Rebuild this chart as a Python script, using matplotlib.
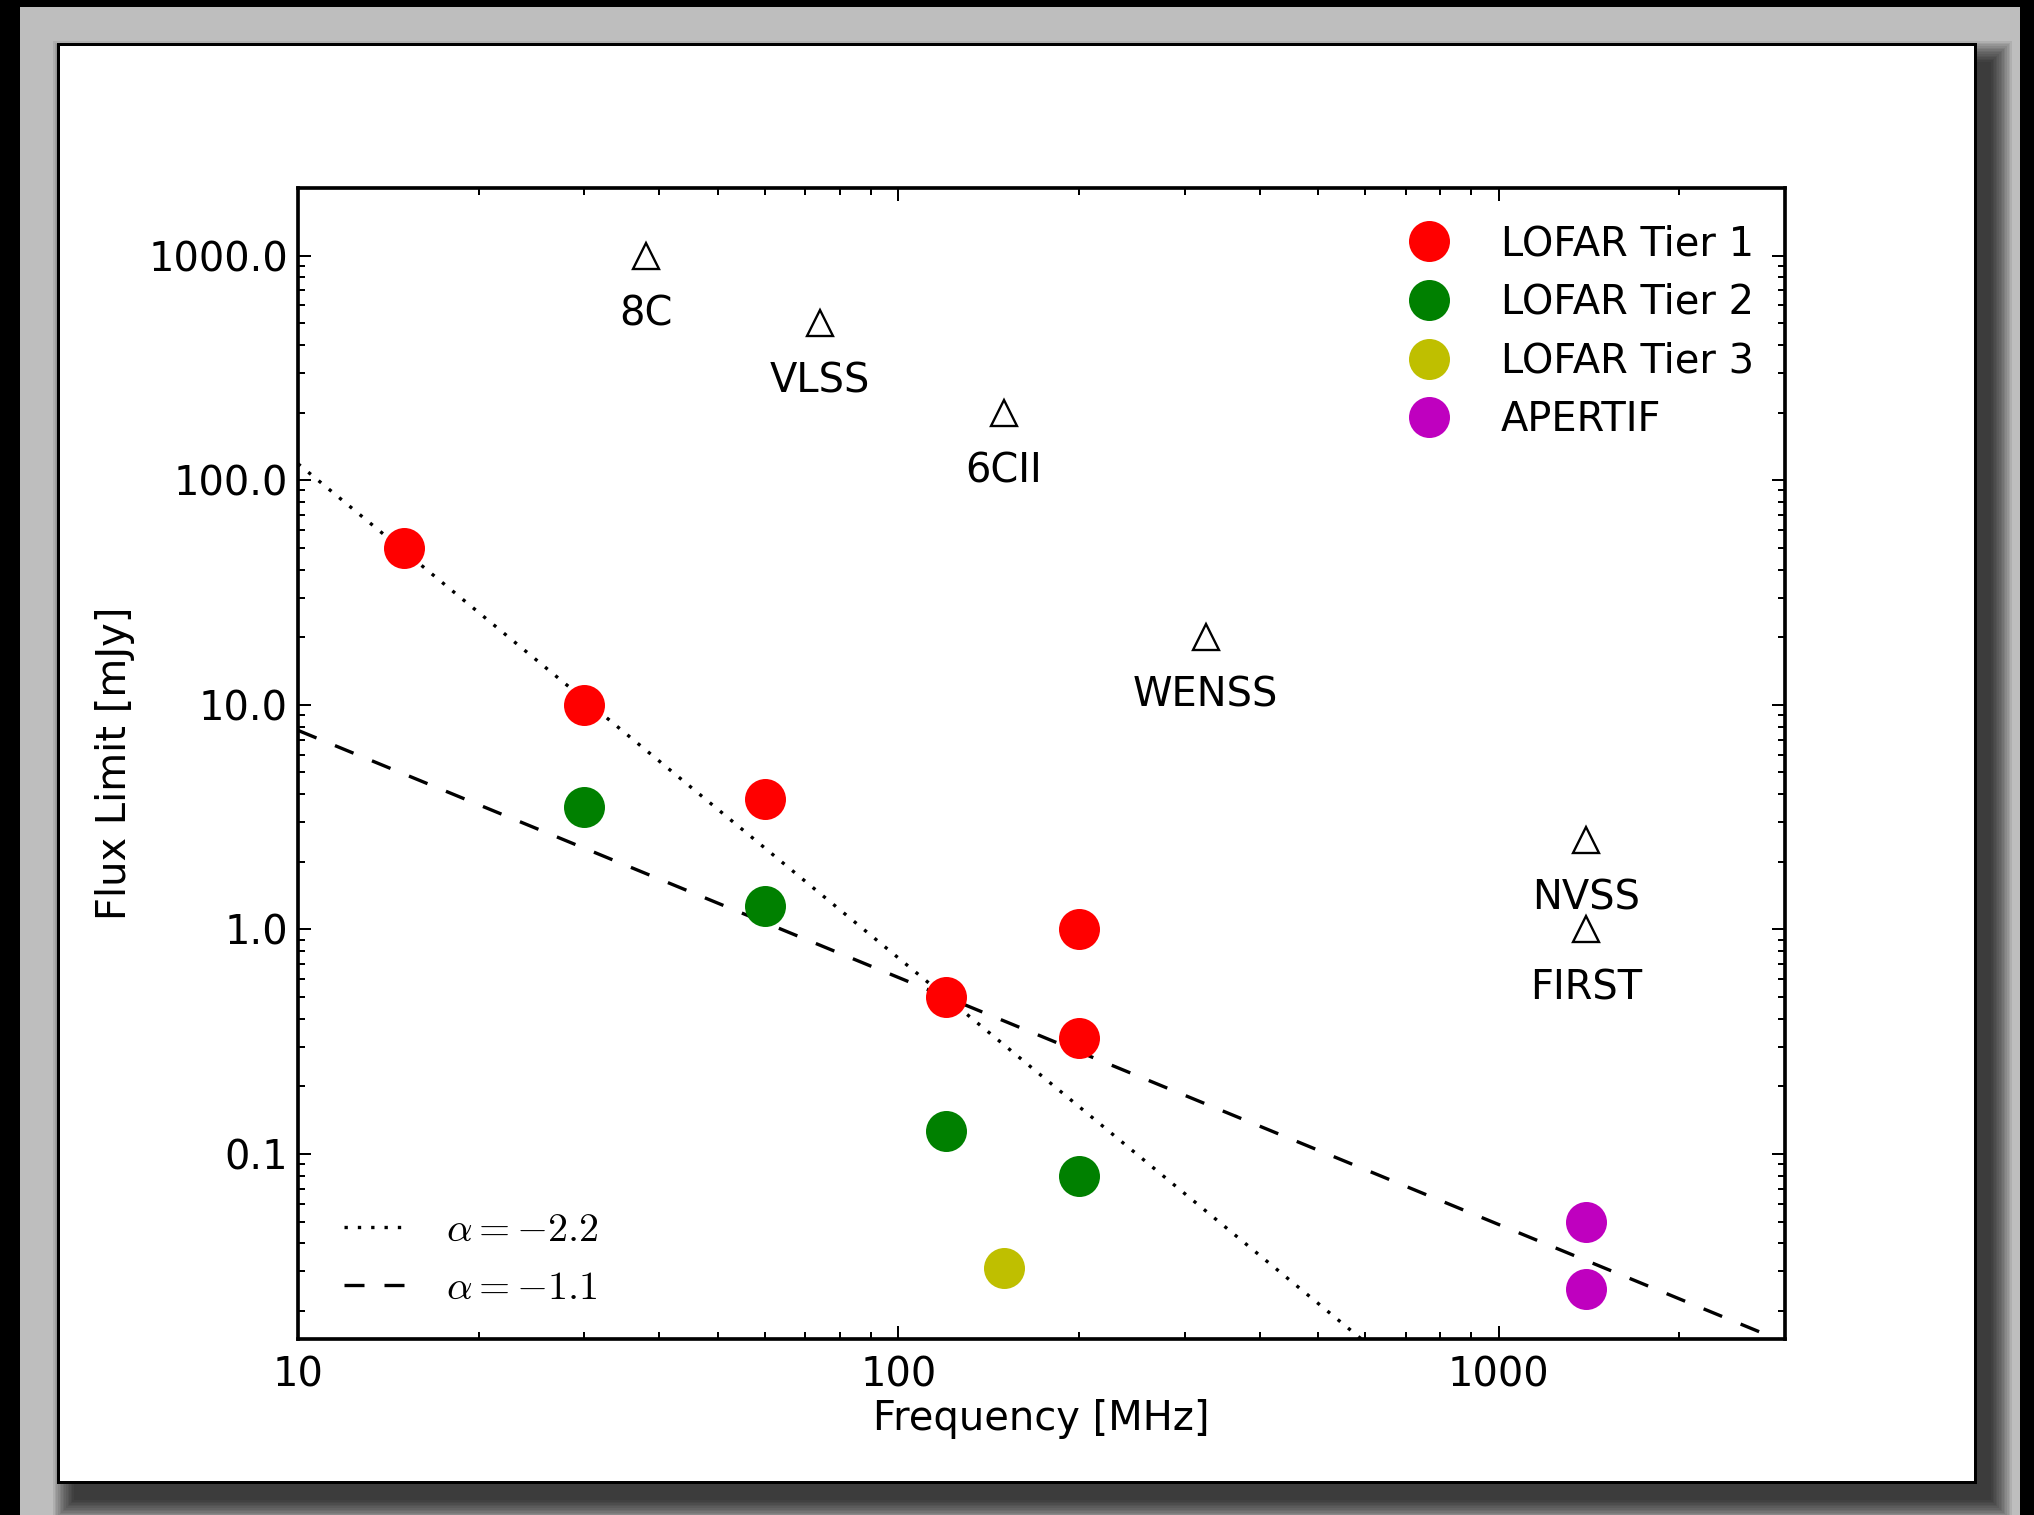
import matplotlib
matplotlib.use('Agg')
import matplotlib.pyplot as plt
import numpy as np
from matplotlib.patches import Rectangle
from matplotlib.ticker import FormatStrFormatter, NullFormatter, LogLocator

plt.rcParams['mathtext.fontset'] = 'cm'
plt.rcParams['font.size'] = 12

# survey limits
tier1_freq = [15, 30, 60, 120, 200, 200]
tier1_flux = [50, 10, 3.8, 0.5, 1.0, 0.33]
tier2_freq = [30, 60, 120, 200]
tier2_flux = [3.5, 1.27, 0.127, 0.08]
tier3_freq = [150]
tier3_flux = [0.031]
apertif_freq = [1400, 1400]
apertif_flux = [0.05, 0.025]

other_names = ['8C', 'VLSS', '6CII', 'WENSS', 'NVSS', 'FIRST']
other_freq = [38, 74, 150, 325, 1400, 1400]
other_flux = [1000, 500, 200, 20, 2.5, 1.0]

# spectral index lines through 0.5 mJy at 120 MHz
alphas = [-2.2, -1.1]
alpha_styles = [(1, 3), (6, 6)]
ref_freq = 120
ref_flux = 0.5
line_freq = np.array([10, 3000])

W, H, DPI = 2034, 1515, 240
fig = plt.figure(figsize=(W / DPI, H / DPI), dpi=DPI)
fig.patch.set_facecolor('#bebebe')

def px_rect(x0, y0, x1, y1, **kw):
    # rectangle given in pixel coords, y measured from top
    r = Rectangle((x0 / W, 1 - y1 / H), (x1 - x0) / W, (y1 - y0) / H,
                  transform=fig.transFigure, **kw)
    fig.patches.append(r)

# screenshot frame
px_rect(0, 0, 20, H, facecolor='k', edgecolor='none', zorder=-20)
px_rect(0, 0, W, 7, facecolor='k', edgecolor='none', zorder=-20)
px_rect(2020, 0, W, H, facecolor='k', edgecolor='none', zorder=-20)
for i in range(14):
    g = 1.6 * i
    px_rect(58 - g + 16, 44 - g + 18, 1975 + g + 16, 1482 + g + 18,
            facecolor='k', edgecolor='none', alpha=0.074, zorder=-15)
px_rect(58, 44, 1975, 1482, facecolor='white', edgecolor='k', linewidth=0.9, zorder=-10)

ax = fig.add_axes([298 / W, 1 - 1339 / H, (1785 - 298) / W, (1339 - 188) / H])

for a, dsh in zip(alphas, alpha_styles):
    ax.plot(line_freq, ref_flux * (line_freq / ref_freq) ** a, color='k', lw=1.0,
            dashes=dsh, label=r'$\alpha=%.1f$' % a)
lines_leg = ax.legend(loc='lower left', bbox_to_anchor=(0.007, -0.0045), frameon=False,
                      handlelength=1.5, handletextpad=1.05, labelspacing=0.45, fontsize=12)
ax.add_artist(lines_leg)

pts = []
for f, s, c, lab in [(tier1_freq, tier1_flux, 'r', 'LOFAR Tier 1'),
                     (tier2_freq, tier2_flux, 'g', 'LOFAR Tier 2'),
                     (tier3_freq, tier3_flux, 'y', 'LOFAR Tier 3'),
                     (apertif_freq, apertif_flux, 'm', 'APERTIF')]:
    p, = ax.plot(f, s, 'o', color=c, markersize=12.3, markeredgewidth=0, label=lab)
    pts.append(p)

ax.plot(other_freq, other_flux, '^', markersize=8, markerfacecolor='none',
        markeredgecolor='k', markeredgewidth=0.7)
for name, f, s in zip(other_names, other_freq, other_flux):
    ax.annotate(name, (f, s), xytext=(0, -17.6), textcoords='offset points',
                ha='center', va='center', fontsize=12)

ax.legend(handles=pts, loc='upper right', bbox_to_anchor=(1.0035, 1.0), frameon=False,
          numpoints=1, handlelength=1.5, handletextpad=1.05, labelspacing=0.47, fontsize=12)

ax.set_xscale('log')
ax.set_yscale('log')
ax.set_xlim(10, 3000)
ax.set_ylim(0.015, 2000)
ax.xaxis.set_major_formatter(FormatStrFormatter('%d'))
ax.yaxis.set_major_formatter(FormatStrFormatter('%.1f'))
ax.xaxis.set_minor_formatter(NullFormatter())
ax.yaxis.set_minor_formatter(NullFormatter())
ax.yaxis.set_major_locator(LogLocator(base=10, numticks=20))
ax.yaxis.set_minor_locator(LogLocator(base=10, subs=np.arange(2, 10), numticks=20))
ax.tick_params(which='both', direction='in', top=True, right=True, width=0.6)
ax.tick_params(which='major', length=4, labelsize=12)
ax.tick_params(axis='x', which='major', pad=5)
ax.tick_params(axis='y', which='major', pad=3)
ax.tick_params(which='minor', length=2)
for sp in ax.spines.values():
    sp.set_linewidth(1.1)

ax.set_xlabel('Frequency [MHz]', fontsize=12, labelpad=1)
ax.set_ylabel('Flux Limit [mJy]', fontsize=12, labelpad=4)

fig.savefig('out.png', dpi=DPI, facecolor=fig.get_facecolor())
